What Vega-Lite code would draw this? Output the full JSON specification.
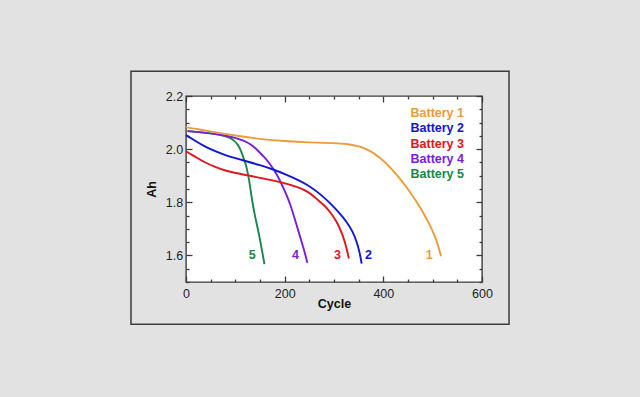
{
  "$schema": "https://vega.github.io/schema/vega-lite/v6.json",
  "width": 296,
  "height": 186,
  "autosize": "none",
  "padding": {"left": 186, "top": 96, "right": 158, "bottom": 115},
  "background": "#e2e2e2",
  "config": {
    "view": {"fill": "white", "stroke": "#3c3c3c", "strokeWidth": 1.4},
    "font": "Liberation Sans",
    "axis": {"domain": false, "grid": false, "tickColor": "#3c3c3c", "tickWidth": 1.3, "labelColor": "#222", "labelFontSize": 12.5, "titleColor": "#111", "titleFontSize": 12.5, "titleFontWeight": "bold"}
  },
  "datasets": {
    "curves": [
      {"battery": "Battery 5", "cycle": 3, "ah": 2.068},
      {"battery": "Battery 5", "cycle": 40, "ah": 2.062},
      {"battery": "Battery 5", "cycle": 77, "ah": 2.052},
      {"battery": "Battery 5", "cycle": 90, "ah": 2.042},
      {"battery": "Battery 5", "cycle": 97, "ah": 2.033},
      {"battery": "Battery 5", "cycle": 105, "ah": 2.018},
      {"battery": "Battery 5", "cycle": 111, "ah": 1.996},
      {"battery": "Battery 5", "cycle": 116, "ah": 1.970},
      {"battery": "Battery 5", "cycle": 121, "ah": 1.945},
      {"battery": "Battery 5", "cycle": 125, "ah": 1.912},
      {"battery": "Battery 5", "cycle": 128, "ah": 1.883},
      {"battery": "Battery 5", "cycle": 131, "ah": 1.845},
      {"battery": "Battery 5", "cycle": 134, "ah": 1.807},
      {"battery": "Battery 5", "cycle": 140, "ah": 1.745},
      {"battery": "Battery 5", "cycle": 147, "ah": 1.690},
      {"battery": "Battery 5", "cycle": 153, "ah": 1.630},
      {"battery": "Battery 5", "cycle": 159, "ah": 1.567},
      {"battery": "Battery 4", "cycle": 3, "ah": 2.068},
      {"battery": "Battery 4", "cycle": 40, "ah": 2.062},
      {"battery": "Battery 4", "cycle": 77, "ah": 2.052},
      {"battery": "Battery 4", "cycle": 100, "ah": 2.043},
      {"battery": "Battery 4", "cycle": 118, "ah": 2.032},
      {"battery": "Battery 4", "cycle": 132, "ah": 2.018},
      {"battery": "Battery 4", "cycle": 145, "ah": 1.996},
      {"battery": "Battery 4", "cycle": 160, "ah": 1.968},
      {"battery": "Battery 4", "cycle": 172, "ah": 1.940},
      {"battery": "Battery 4", "cycle": 183, "ah": 1.908},
      {"battery": "Battery 4", "cycle": 192, "ah": 1.876},
      {"battery": "Battery 4", "cycle": 202, "ah": 1.835},
      {"battery": "Battery 4", "cycle": 211, "ah": 1.795},
      {"battery": "Battery 4", "cycle": 221, "ah": 1.735},
      {"battery": "Battery 4", "cycle": 231, "ah": 1.671},
      {"battery": "Battery 4", "cycle": 240, "ah": 1.617},
      {"battery": "Battery 4", "cycle": 246, "ah": 1.572},
      {"battery": "Battery 3", "cycle": 0, "ah": 1.992},
      {"battery": "Battery 3", "cycle": 20, "ah": 1.970},
      {"battery": "Battery 3", "cycle": 36, "ah": 1.952},
      {"battery": "Battery 3", "cycle": 60, "ah": 1.932},
      {"battery": "Battery 3", "cycle": 80, "ah": 1.919},
      {"battery": "Battery 3", "cycle": 100, "ah": 1.910},
      {"battery": "Battery 3", "cycle": 124, "ah": 1.902},
      {"battery": "Battery 3", "cycle": 150, "ah": 1.892},
      {"battery": "Battery 3", "cycle": 192, "ah": 1.876},
      {"battery": "Battery 3", "cycle": 226, "ah": 1.858},
      {"battery": "Battery 3", "cycle": 250, "ah": 1.838},
      {"battery": "Battery 3", "cycle": 263, "ah": 1.815},
      {"battery": "Battery 3", "cycle": 280, "ah": 1.790},
      {"battery": "Battery 3", "cycle": 295, "ah": 1.757},
      {"battery": "Battery 3", "cycle": 305, "ah": 1.728},
      {"battery": "Battery 3", "cycle": 315, "ah": 1.690},
      {"battery": "Battery 3", "cycle": 322, "ah": 1.651},
      {"battery": "Battery 3", "cycle": 327, "ah": 1.615},
      {"battery": "Battery 3", "cycle": 330, "ah": 1.588},
      {"battery": "Battery 2", "cycle": 0, "ah": 2.053},
      {"battery": "Battery 2", "cycle": 20, "ah": 2.030},
      {"battery": "Battery 2", "cycle": 36, "ah": 2.012},
      {"battery": "Battery 2", "cycle": 60, "ah": 1.991},
      {"battery": "Battery 2", "cycle": 80, "ah": 1.977},
      {"battery": "Battery 2", "cycle": 100, "ah": 1.966},
      {"battery": "Battery 2", "cycle": 121, "ah": 1.955},
      {"battery": "Battery 2", "cycle": 150, "ah": 1.940},
      {"battery": "Battery 2", "cycle": 178, "ah": 1.923},
      {"battery": "Battery 2", "cycle": 205, "ah": 1.903},
      {"battery": "Battery 2", "cycle": 226, "ah": 1.885},
      {"battery": "Battery 2", "cycle": 250, "ah": 1.862},
      {"battery": "Battery 2", "cycle": 273, "ah": 1.830},
      {"battery": "Battery 2", "cycle": 292, "ah": 1.797},
      {"battery": "Battery 2", "cycle": 310, "ah": 1.762},
      {"battery": "Battery 2", "cycle": 326, "ah": 1.726},
      {"battery": "Battery 2", "cycle": 338, "ah": 1.690},
      {"battery": "Battery 2", "cycle": 346, "ah": 1.652},
      {"battery": "Battery 2", "cycle": 352, "ah": 1.612},
      {"battery": "Battery 2", "cycle": 356, "ah": 1.569},
      {"battery": "Battery 1", "cycle": 0, "ah": 2.082},
      {"battery": "Battery 1", "cycle": 25, "ah": 2.075},
      {"battery": "Battery 1", "cycle": 50, "ah": 2.066},
      {"battery": "Battery 1", "cycle": 100, "ah": 2.051},
      {"battery": "Battery 1", "cycle": 150, "ah": 2.038},
      {"battery": "Battery 1", "cycle": 200, "ah": 2.030},
      {"battery": "Battery 1", "cycle": 250, "ah": 2.025},
      {"battery": "Battery 1", "cycle": 300, "ah": 2.023},
      {"battery": "Battery 1", "cycle": 330, "ah": 2.019},
      {"battery": "Battery 1", "cycle": 350, "ah": 2.011},
      {"battery": "Battery 1", "cycle": 370, "ah": 1.998},
      {"battery": "Battery 1", "cycle": 393, "ah": 1.970},
      {"battery": "Battery 1", "cycle": 415, "ah": 1.930},
      {"battery": "Battery 1", "cycle": 434, "ah": 1.889},
      {"battery": "Battery 1", "cycle": 450, "ah": 1.850},
      {"battery": "Battery 1", "cycle": 468, "ah": 1.801},
      {"battery": "Battery 1", "cycle": 482, "ah": 1.757},
      {"battery": "Battery 1", "cycle": 495, "ah": 1.713},
      {"battery": "Battery 1", "cycle": 505, "ah": 1.670},
      {"battery": "Battery 1", "cycle": 511, "ah": 1.638},
      {"battery": "Battery 1", "cycle": 517, "ah": 1.597}
    ],
    "ends": [
      {"battery": "Battery 1", "label": "1", "cycle": 493, "ah": 1.603},
      {"battery": "Battery 2", "label": "2", "cycle": 370, "ah": 1.603},
      {"battery": "Battery 3", "label": "3", "cycle": 307, "ah": 1.603},
      {"battery": "Battery 4", "label": "4", "cycle": 222, "ah": 1.603},
      {"battery": "Battery 5", "label": "5", "cycle": 134, "ah": 1.603}
    ]
  },
  "resolve": {"axis": {"x": "independent", "y": "independent"}},
  "layer": [
    {
      "data": {"values": [{}]},
      "mark": {"type": "rect", "fill": null, "stroke": "#3c3c3c", "strokeWidth": 1.5, "clip": false},
      "encoding": {
        "x": {"datum": -111.5, "type": "quantitative", "axis": null},
        "x2": {"datum": 654.8},
        "y": {"datum": 2.293, "type": "quantitative", "axis": null},
        "y2": {"datum": 1.341}
      }
    },
    {
      "data": {"name": "curves"},
      "mark": {"type": "line", "interpolate": "basis", "strokeWidth": 1.9},
      "encoding": {
        "x": {
          "field": "cycle", "type": "quantitative",
          "scale": {"domain": [0, 600], "nice": false},
          "axis": {
            "orient": "bottom", "title": "Cycle", "titlePadding": -3,
            "values": [0, 50, 100, 150, 200, 250, 300, 350, 400, 450, 500, 550, 600],
            "labelExpr": "datum.value % 200 === 0 ? datum.label : ''",
            "tickSize": {"condition": {"test": "datum.value % 200 === 0", "value": -6}, "value": -3},
            "labelPadding": 11.5, "labelFlush": false
          }
        },
        "y": {
          "field": "ah", "type": "quantitative",
          "scale": {"domain": [1.5, 2.2], "nice": false, "zero": false},
          "axis": {
            "orient": "left", "title": "Ah", "titlePadding": 7, "format": ".1f",
            "values": [1.5, 1.55, 1.6, 1.65, 1.7, 1.75, 1.8, 1.85, 1.9, 1.95, 2.0, 2.05, 2.1, 2.15, 2.2],
            "labelExpr": "round(datum.value*100) % 20 === 0 ? datum.label : ''",
            "tickSize": {"condition": {"test": "round(datum.value*100) % 20 === 0", "value": -6}, "value": -3},
            "labelPadding": 9.3, "labelFlush": false
          }
        },
        "color": {
          "field": "battery", "type": "nominal",
          "scale": {
            "domain": ["Battery 1", "Battery 2", "Battery 3", "Battery 4", "Battery 5"],
            "range": ["#EE9A38", "#0F16D6", "#E2141C", "#7A1DE0", "#16884A"]
          },
          "legend": {
            "orient": "none", "legendX": 212, "legendY": 11, "title": null,
            "symbolSize": 0, "symbolStrokeWidth": 0, "symbolOpacity": 0, "labelOffset": 0,
            "labelFontSize": 12.5, "labelFontWeight": "bold", "rowPadding": 2.2, "padding": 0,
            "labelColor": {"expr": "scale('color', datum.value)"}
          }
        },
        "order": {"field": "cycle", "type": "quantitative"}
      }
    },
    {
      "data": {"name": "ends"},
      "mark": {"type": "text", "fontWeight": "bold", "fontSize": 12.5, "align": "center", "baseline": "middle"},
      "encoding": {
        "x": {
          "field": "cycle", "type": "quantitative",
          "axis": {
            "orient": "top", "title": null, "labels": false,
            "values": [0, 50, 100, 150, 200, 250, 300, 350, 400, 450, 500, 550, 600],
            "tickSize": {"condition": {"test": "datum.value % 200 === 0", "value": -6}, "value": -3}
          }
        },
        "y": {
          "field": "ah", "type": "quantitative",
          "axis": {
            "orient": "right", "title": null, "labels": false,
            "values": [1.5, 1.55, 1.6, 1.65, 1.7, 1.75, 1.8, 1.85, 1.9, 1.95, 2.0, 2.05, 2.1, 2.15, 2.2],
            "tickSize": {"condition": {"test": "round(datum.value*100) % 20 === 0", "value": -6}, "value": -3}
          }
        },
        "text": {"field": "label"},
        "color": {"field": "battery", "type": "nominal", "legend": null}
      }
    }
  ]
}
